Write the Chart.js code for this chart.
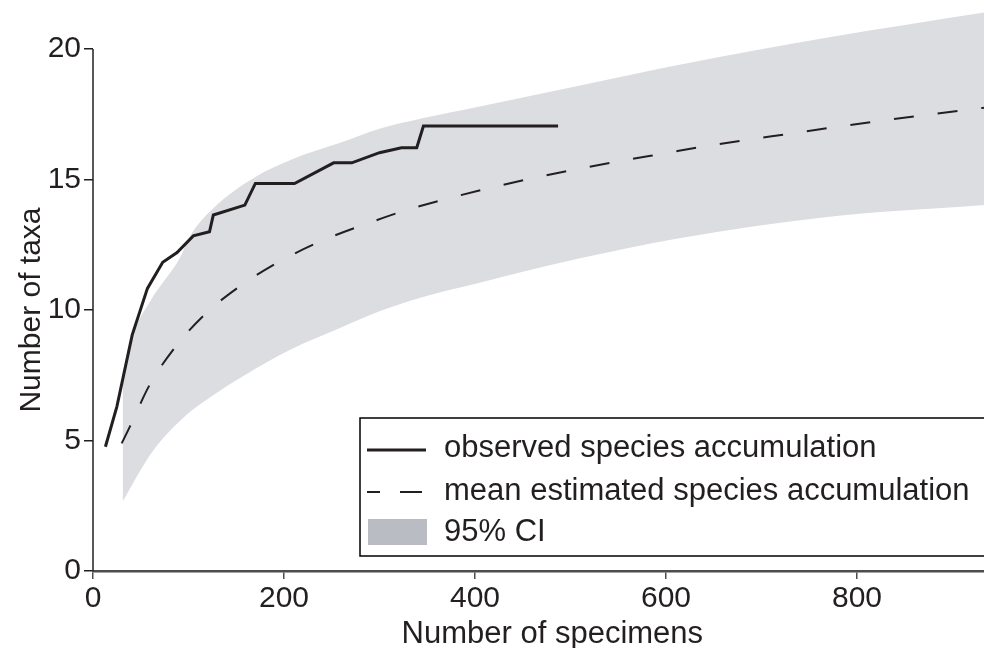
<!DOCTYPE html>
<html>
<head>
<meta charset="utf-8">
<script src="https://cdn.jsdelivr.net/npm/chart.js@4.4.1/dist/chart.umd.min.js"></script>
<style>
  body { margin: 0; background: #fff; }
  #wrap { width: 984px; height: 648px; }
</style>
</head>
<body>
<div id="wrap"><canvas id="chart" width="984" height="648"></canvas></div>
<script>
// values
const obsX = [13, 25, 41, 57, 73, 88, 105, 122, 126, 159, 170, 211, 252, 271, 300, 323, 339, 346, 487];
const obsY = [4.76, 6.3, 9.04, 10.83, 11.83, 12.2, 12.84, 13.0, 13.64, 14.02, 14.85, 14.85, 15.64, 15.64, 16.03, 16.22, 16.22, 17.05, 17.05];

const meanX = [30, 39, 59, 85, 117, 153, 193, 235, 303, 323, 368, 460, 551, 598, 645, 691, 785, 877, 933];
const meanY = [4.89, 5.56, 7.11, 8.53, 9.83, 10.89, 11.81, 12.58, 13.52, 13.77, 14.24, 15.05, 15.7, 16.0, 16.3, 16.55, 17.05, 17.5, 17.75];

const upperX = [31, 41, 61, 91, 101, 126, 170, 210, 258, 300, 345, 405, 510, 614, 771, 933];
const upperY = [7.6, 9.0, 10.4, 12.0, 12.8, 13.9, 15.1, 15.8, 16.4, 16.95, 17.35, 17.8, 18.6, 19.4, 20.45, 21.4];

const lowerX = [31, 61, 94, 129, 171, 206, 258, 300, 350, 405, 510, 614, 771, 933];
const lowerY = [2.66, 4.51, 5.85, 6.81, 7.77, 8.47, 9.3, 9.95, 10.55, 11.05, 11.98, 12.75, 13.57, 14.02];

const xTicks = [0, 200, 400, 600, 800];
const yTicks = [0, 5, 10, 15, 20];

const labels = ['observed species accumulation', 'mean estimated species accumulation', '95% CI'];

const font = "'Liberation Sans', Arial, Helvetica, sans-serif";
const ink = '#231f20';
const bandColor = '#dcdde1';
const patchColor = '#b9bcc3';

const pts = (xs, ys) => xs.map((x, i) => ({ x: x, y: ys[i] }));

// axis line, titles and boxed legend
const extras = {
    id: 'extras',
    afterDraw(chart) {
        const ctx = chart.ctx;
        const xs = chart.scales.x;
        const ys = chart.scales.y;
        const left = chart.chartArea.left;

        ctx.save();
        ctx.strokeStyle = ink;
        ctx.lineWidth = 1.5;
        ctx.beginPath();
        ctx.moveTo(left, ys.getPixelForValue(yTicks[yTicks.length - 1]));
        ctx.lineTo(left, ys.getPixelForValue(0));
        ctx.stroke();

        ctx.fillStyle = ink;
        ctx.font = '31px ' + font;
        ctx.textAlign = 'center';
        ctx.textBaseline = 'alphabetic';
        ctx.fillText('Number of specimens', xs.getPixelForValue(481), 643);

        ctx.save();
        ctx.translate(40, ys.getPixelForValue(10));
        ctx.rotate(-Math.PI / 2);
        ctx.font = '30px ' + font;
        ctx.fillText('Number of taxa', 0, 0);
        ctx.restore();

        // legend
        ctx.fillStyle = '#fff';
        ctx.fillRect(360, 418, 640, 138);
        ctx.strokeStyle = '#000';
        ctx.lineWidth = 1.5;
        ctx.strokeRect(360, 418, 640, 138);

        const rows = [448, 491, 532];
        ctx.strokeStyle = ink;
        ctx.lineWidth = 3;
        ctx.beginPath();
        ctx.moveTo(367, 450);
        ctx.lineTo(426, 450);
        ctx.stroke();

        ctx.lineWidth = 2;
        ctx.setLineDash([22, 20]);
        ctx.lineDashOffset = 9;
        ctx.beginPath();
        ctx.moveTo(367, 492);
        ctx.lineTo(426, 492);
        ctx.stroke();
        ctx.setLineDash([]);

        ctx.fillStyle = patchColor;
        ctx.fillRect(368, 519, 59, 26);

        ctx.fillStyle = ink;
        ctx.font = '31px ' + font;
        ctx.textAlign = 'left';
        ctx.textBaseline = 'middle';
        labels.forEach((t, i) => ctx.fillText(t, 444, rows[i]));
        ctx.restore();
    }
};

new Chart(document.querySelector('#chart').getContext('2d'), {
    type: 'line',
    data: {
        datasets: [
            {
                label: labels[0],
                data: pts(obsX, obsY),
                borderColor: ink,
                borderWidth: 3,
                pointRadius: 0,
                fill: false,
                order: 0
            },
            {
                label: labels[1],
                data: pts(meanX, meanY),
                borderColor: ink,
                borderWidth: 2,
                borderDash: [20, 24],
                pointRadius: 0,
                cubicInterpolationMode: 'monotone',
                fill: false,
                order: 1
            },
            {
                label: 'lower',
                data: pts(lowerX, lowerY),
                borderWidth: 0,
                borderColor: 'rgba(0,0,0,0)',
                pointRadius: 0,
                cubicInterpolationMode: 'monotone',
                fill: false,
                order: 3
            },
            {
                label: labels[2],
                data: pts(upperX, upperY),
                borderWidth: 0,
                borderColor: 'rgba(0,0,0,0)',
                backgroundColor: bandColor,
                pointRadius: 0,
                cubicInterpolationMode: 'monotone',
                fill: 2,
                order: 2
            }
        ]
    },
    options: {
        responsive: false,
        animation: false,
        devicePixelRatio: 1,
        layout: { padding: 0 },
        plugins: {
            legend: { display: false },
            tooltip: { enabled: false }
        },
        scales: {
            x: {
                type: 'linear',
                min: 0,
                max: 933,
                afterBuildTicks: (s) => { s.ticks = xTicks.map(v => ({ value: v })) },
                afterFit: (s) => { s.height = 77; s.paddingLeft = 0; s.paddingRight = 0 },
                ticks: {
                    color: ink,
                    font: { family: font, size: 30 },
                    padding: 2,
                    maxRotation: 0
                },
                grid: {
                    drawOnChartArea: false,
                    tickLength: 8,
                    color: '#4d4d4d',
                    lineWidth: 1.5
                },
                border: { display: true, color: '#4d4d4d', width: 2.5 }
            },
            y: {
                type: 'linear',
                min: 0,
                max: 21.88,
                afterBuildTicks: (s) => { s.ticks = yTicks.map(v => ({ value: v })) },
                afterFit: (s) => { s.width = 93; s.paddingTop = 0; s.paddingBottom = 0 },
                ticks: {
                    color: ink,
                    font: { family: font, size: 30 },
                    padding: 3
                },
                grid: {
                    drawOnChartArea: false,
                    tickLength: 9,
                    color: ink,
                    lineWidth: 1.5
                },
                border: { display: false }
            }
        }
    },
    plugins: [extras]
})
</script>
</body>
</html>
